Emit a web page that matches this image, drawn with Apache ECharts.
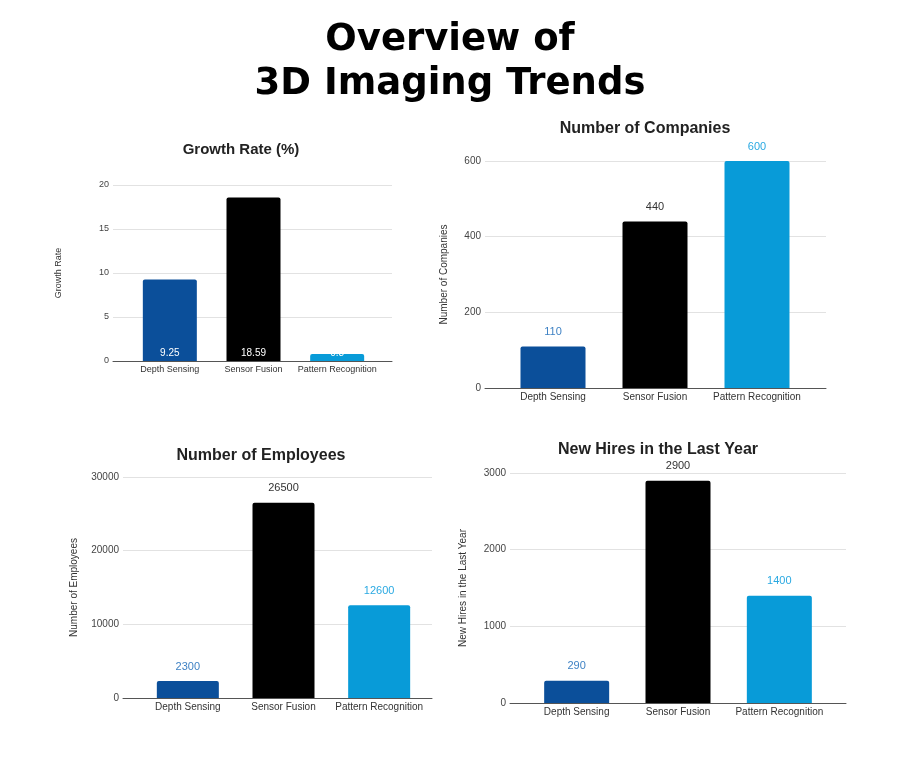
<!DOCTYPE html>
<html>
<head>
<meta charset="utf-8">
<script src="https://cdn.jsdelivr.net/npm/echarts@6/dist/echarts.min.js"></script>
<style>
html, body { margin: 0; padding: 0; background: #fff; }
#chart { width: 900px; height: 759px; }
</style>
</head>
<body>
<div id="chart"></div>
<script>
// chart data
const categories = ['Depth Sensing', 'Sensor Fusion', 'Pattern Recognition']
const growthRate = [9.25, 18.59, 0.8]
const companies = [110, 440, 600]
const employees = [2300, 26500, 12600]
const newHires = [290, 2900, 1400]

const growthTicks = [0, 20, 5]
const companyTicks = [0, 600, 200]
const employeeTicks = [0, 30000, 10000]
const hireTicks = [0, 3000, 1000]

const barColors = ['#0b4f9a', '#000000', '#089bd8']
const labelColors = ['#3f82c4', '#333333', '#2aa9e2']

// each panel: a wide grid for gridlines / y axis, a narrower one for the bars
const panels = [
    {
        title: 'Growth Rate (%)', titleX: 236, titleY: 137, titleSize: 15,
        yName: 'Growth Rate', nameGap: 50, nameSize: 9, fontSize: 9,
        values: growthRate, ticks: growthTicks,
        full: [113, 392], bars: [128, 379], top: 185, bottom: 361, barWidth: 54,
        inside: true
    },
    {
        title: 'Number of Companies', titleX: 640, titleY: 116, titleSize: 16,
        yName: 'Number of Companies', nameGap: 36, nameSize: 10, fontSize: 10,
        values: companies, ticks: companyTicks,
        full: [485, 826], bars: [502, 808], top: 161, bottom: 388, barWidth: 65
    },
    {
        title: 'Number of Employees', titleX: 256, titleY: 443, titleSize: 16,
        yName: 'Number of Employees', nameGap: 44, nameSize: 10, fontSize: 10,
        values: employees, ticks: employeeTicks,
        full: [123, 432], bars: [140, 427], top: 477, bottom: 698, barWidth: 62
    },
    {
        title: 'New Hires in the Last Year', titleX: 653, titleY: 437, titleSize: 16,
        yName: 'New Hires in the Last Year', nameGap: 42, nameSize: 10, fontSize: 10,
        values: newHires, ticks: hireTicks,
        full: [510, 846], bars: [526, 830], top: 473, bottom: 703, barWidth: 65
    }
]

const font = 'Liberation Sans, Arial, sans-serif'

const option = {
    backgroundColor: '#ffffff',
    animation: false,
    title: [{
        text: 'Overview of\n3D Imaging Trends',
        left: 445,
        top: 13,
        textAlign: 'center',
        textStyle: {
            fontFamily: 'DejaVu Sans, sans-serif',
            fontWeight: 'bold',
            fontSize: 37,
            lineHeight: 44,
            color: '#000'
        }
    }],
    grid: [],
    xAxis: [],
    yAxis: [],
    series: []
}

panels.forEach(function (p, i) {
    const height = p.bottom - p.top
    option.title.push({
        text: p.title,
        left: p.titleX,
        top: p.titleY,
        textAlign: 'center',
        textStyle: { fontFamily: font, fontWeight: 'bold', fontSize: p.titleSize, color: '#222' }
    })
    option.grid.push(
        { left: p.full[0], width: p.full[1] - p.full[0], top: p.top, height: height },
        { left: p.bars[0], width: p.bars[1] - p.bars[0], top: p.top, height: height }
    )
    option.xAxis.push(
        {
            gridIndex: 2 * i, type: 'value', min: 0, max: 1,
            axisLine: { show: true, lineStyle: { color: '#555', width: 1 } },
            axisTick: { show: false }, axisLabel: { show: false }, splitLine: { show: false }
        },
        {
            gridIndex: 2 * i + 1, type: 'category', data: categories,
            axisLine: { show: false }, axisTick: { show: false },
            axisLabel: { fontFamily: font, fontSize: p.fontSize, color: '#333', margin: 4, interval: 0 }
        }
    )
    option.yAxis.push(
        {
            gridIndex: 2 * i, type: 'value',
            min: p.ticks[0], max: p.ticks[1], interval: p.ticks[2],
            name: p.yName, nameLocation: 'middle', nameGap: p.nameGap, nameRotate: 90,
            nameTextStyle: { fontFamily: font, fontSize: p.nameSize, color: '#333' },
            axisLine: { show: false }, axisTick: { show: false },
            axisLabel: {
                fontFamily: font, fontSize: p.fontSize, color: '#444', margin: 4,
                formatter: function (v) { return String(v) }
            },
            splitLine: { lineStyle: { color: '#e2e2e2' } }
        },
        {
            gridIndex: 2 * i + 1, type: 'value', show: false,
            min: p.ticks[0], max: p.ticks[1], interval: p.ticks[2],
            splitLine: { show: false }
        }
    )
    option.series.push({
        type: 'bar',
        xAxisIndex: 2 * i + 1,
        yAxisIndex: 2 * i + 1,
        barWidth: p.barWidth,
        label: p.inside
            ? { show: true, position: 'insideBottom', distance: 3, color: '#fff', fontFamily: font, fontSize: 10 }
            : { show: true, position: 'top', distance: 9, fontFamily: font, fontSize: 11 },
        data: p.values.map(function (v, k) {
            const item = { value: v, itemStyle: { color: barColors[k], borderRadius: [2, 2, 0, 0] } }
            if (!p.inside) item.label = { color: labelColors[k] }
            return item
        })
    })
})

const chart = echarts.init(document.getElementById('chart'), null, { renderer: 'canvas' })
chart.setOption(option)
</script>
</body>
</html>
